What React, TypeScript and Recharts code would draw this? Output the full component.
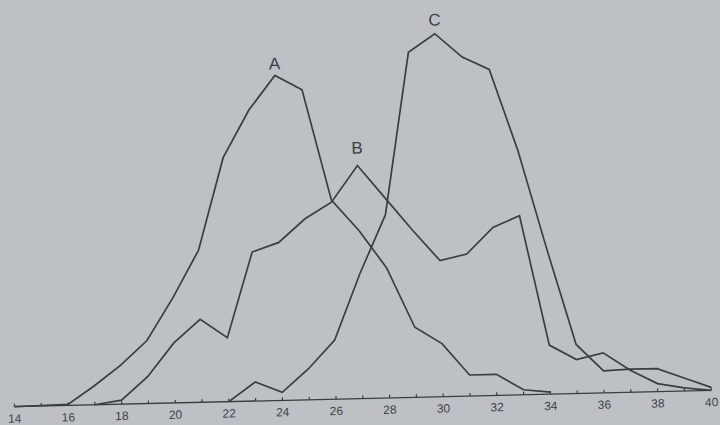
import { LineChart, Line, XAxis, YAxis, ReferenceDot } from "recharts";

// values (arbitrary height units), one per integer x
const xValues = [14, 15, 16, 17, 18, 19, 20, 21, 22, 23, 24, 25, 26, 27, 28, 29, 30, 31, 32, 33, 34, 35, 36, 37, 38, 39, 40];

const aStart = 14;
const seriesA = [0, 0.5, 1, 19, 39, 63, 105, 152, 244, 291, 325, 310, 199, 168, 130, 70, 53, 21, 21, 5, 2];

const bStart = 17;
const seriesB = [0, 4, 27, 60, 83, 64, 149, 158, 181, 197, 233, 200, 167, 136, 142, 168, 179, 49, 34, 40, 22, 8, 3, 0];

const cStart = 22;
const seriesC = [0, 19, 8, 31, 59, 125, 183, 345, 363, 339, 326, 244, 144, 49, 22, 23, 23, 13, 3];

const tickLabels = [14, 16, 18, 20, 22, 24, 26, 28, 30, 32, 34, 36, 38, 40];

const pick = (arr: number[], start: number, x: number) => {
  const i = x - start;
  return i >= 0 && i < arr.length ? arr[i] : null;
};

const data = xValues.map((x) => ({
  x,
  A: pick(seriesA, aStart, x),
  B: pick(seriesB, bStart, x),
  C: pick(seriesC, cStart, x),
}));

const peak = (arr: number[], start: number) => {
  const max = Math.max(...arr);
  return { x: start + arr.indexOf(max), y: max };
};

const peakA = peak(seriesA, aStart);
const peakB = peak(seriesB, bStart);
const peakC = peak(seriesC, cStart);

const ink = "#3a3d42";

const Tick = (props: any) => {
  const { x, y, payload } = props;
  const v = payload.value;
  return (
    <g>
      <line x1={x} x2={x} y1={y} y2={y - 3} stroke={ink} strokeWidth={1.2} />
      {tickLabels.includes(v) && (
        <text
          x={x}
          y={y + 16}
          textAnchor="middle"
          fontSize={12}
          fontFamily="Liberation Sans, sans-serif"
          fill="#404348"
        >
          {v}
        </text>
      )}
    </g>
  );
};

const peakLabel = (text: string, offset: number) => ({
  value: text,
  position: "top" as const,
  offset,
  fontSize: 17,
  fontFamily: "Liberation Sans, sans-serif",
  fill: ink,
});

export default function App() {
  return (
    <div
      style={{
        position: "absolute",
        left: 0,
        top: 0,
        width: 720,
        height: 425,
        background: "#bdc1c6",
        overflow: "hidden",
      }}
    >
      <div style={{ transform: "rotate(-1.34deg)", transformOrigin: "360px 212px" }}>
        <LineChart
          width={720}
          height={425}
          data={data}
          margin={{ top: 8.5, right: 13, bottom: 6.5, left: 10 }}
        >
          <XAxis
            dataKey="x"
            type="number"
            domain={[14, 40]}
            ticks={xValues}
            interval={0}
            height={20}
            tickSize={0}
            tickMargin={0}
            tickLine={false}
            axisLine={{ stroke: ink, strokeWidth: 1.3 }}
            tick={(p: any) => <Tick {...p} />}
          />
          <YAxis hide domain={[0, 390]} />
          <Line type="linear" dataKey="A" stroke={ink} strokeWidth={1.7} dot={false} isAnimationActive={false} />
          <Line type="linear" dataKey="B" stroke={ink} strokeWidth={1.7} dot={false} isAnimationActive={false} />
          <Line type="linear" dataKey="C" stroke={ink} strokeWidth={1.7} dot={false} isAnimationActive={false} />
          <ReferenceDot x={peakA.x} y={peakA.y} r={0} stroke="none" label={peakLabel("A", 6)} />
          <ReferenceDot x={peakB.x} y={peakB.y} r={0} stroke="none" label={peakLabel("B", 12)} />
          <ReferenceDot x={peakC.x} y={peakC.y} r={0} stroke="none" label={peakLabel("C", 8)} />
        </LineChart>
      </div>
    </div>
  );
}
